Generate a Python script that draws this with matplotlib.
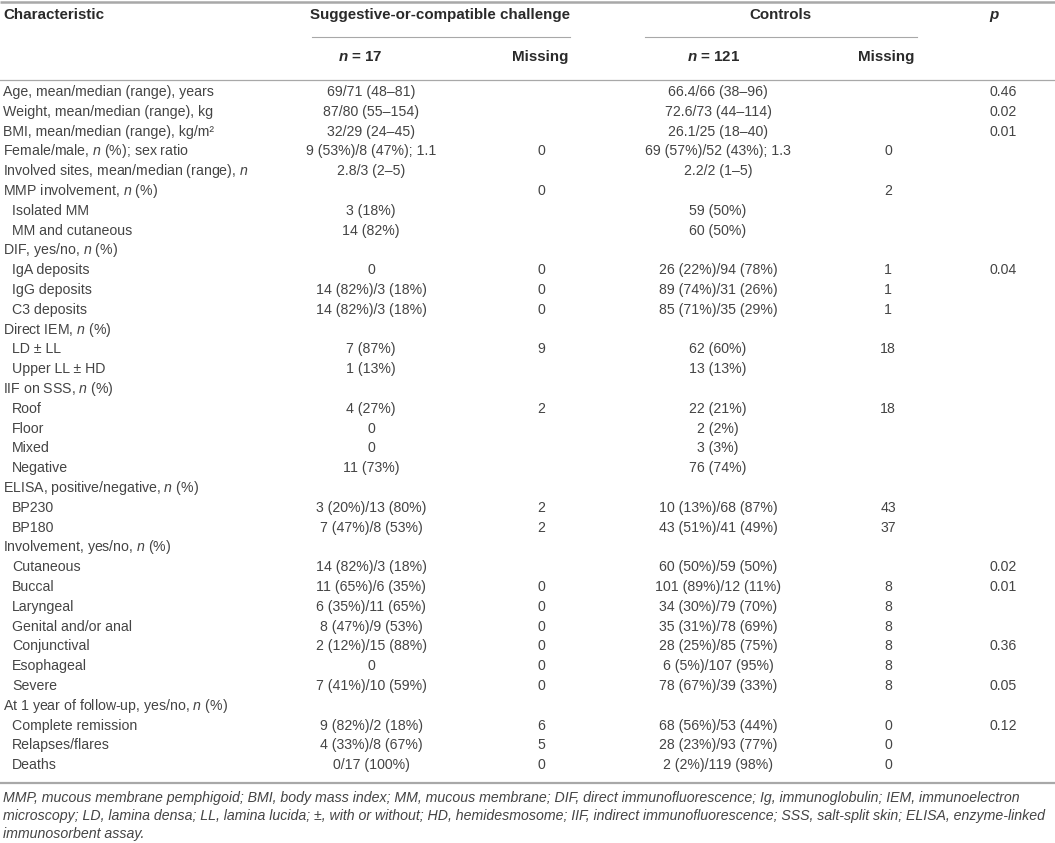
import matplotlib.pyplot as plt

plt.rcParams['font.family'] = 'Liberation Sans'
plt.rcParams['mathtext.fontset'] = 'custom'
plt.rcParams['mathtext.rm'] = 'Liberation Sans'
plt.rcParams['mathtext.it'] = 'Liberation Sans:italic'
plt.rcParams['mathtext.bf'] = 'Liberation Sans:bold'
plt.rcParams['mathtext.bfit'] = 'Liberation Sans:italic:bold'

# table rows: label, indent flag, challenge n=17, missing, controls n=121, missing, p
labels = [
    'Age, mean/median (range), years',
    'Weight, mean/median (range), kg',
    'BMI, mean/median (range), kg/m²',
    'Female/male, $n$ (%); sex ratio',
    'Involved sites, mean/median (range), $n$',
    'MMP involvement, $n$ (%)',
    'Isolated MM',
    'MM and cutaneous',
    'DIF, yes/no, $n$ (%)',
    'IgA deposits',
    'IgG deposits',
    'C3 deposits',
    'Direct IEM, $n$ (%)',
    'LD ± LL',
    'Upper LL ± HD',
    'IIF on SSS, $n$ (%)',
    'Roof',
    'Floor',
    'Mixed',
    'Negative',
    'ELISA, positive/negative, $n$ (%)',
    'BP230',
    'BP180',
    'Involvement, yes/no, $n$ (%)',
    'Cutaneous',
    'Buccal',
    'Laryngeal',
    'Genital and/or anal',
    'Conjunctival',
    'Esophageal',
    'Severe',
    'At 1 year of follow-up, yes/no, $n$ (%)',
    'Complete remission',
    'Relapses/flares',
    'Deaths',
]
indent = [0, 0, 0, 0, 0, 0, 1, 1, 0, 1, 1, 1, 0, 1, 1, 0, 1, 1, 1, 1,
          0, 1, 1, 0, 1, 1, 1, 1, 1, 1, 1, 0, 1, 1, 1]
challenge = [
    '69/71 (48–81)', '87/80 (55–154)', '32/29 (24–45)', '9 (53%)/8 (47%); 1.1',
    '2.8/3 (2–5)', '', '3 (18%)', '14 (82%)', '', '0', '14 (82%)/3 (18%)',
    '14 (82%)/3 (18%)', '', '7 (87%)', '1 (13%)', '', '4 (27%)', '0', '0',
    '11 (73%)', '', '3 (20%)/13 (80%)', '7 (47%)/8 (53%)', '',
    '14 (82%)/3 (18%)', '11 (65%)/6 (35%)', '6 (35%)/11 (65%)',
    '8 (47%)/9 (53%)', '2 (12%)/15 (88%)', '0', '7 (41%)/10 (59%)', '',
    '9 (82%)/2 (18%)', '4 (33%)/8 (67%)', '0/17 (100%)',
]
challenge_missing = [
    '', '', '', '0', '', '0', '', '', '', '0', '0', '0', '', '9', '', '', '2',
    '', '', '', '', '2', '2', '', '', '0', '0', '0', '0', '0', '0', '', '6',
    '5', '0',
]
controls = [
    '66.4/66 (38–96)', '72.6/73 (44–114)', '26.1/25 (18–40)',
    '69 (57%)/52 (43%); 1.3', '2.2/2 (1–5)', '', '59 (50%)', '60 (50%)', '',
    '26 (22%)/94 (78%)', '89 (74%)/31 (26%)', '85 (71%)/35 (29%)', '',
    '62 (60%)', '13 (13%)', '', '22 (21%)', '2 (2%)', '3 (3%)', '76 (74%)',
    '', '10 (13%)/68 (87%)', '43 (51%)/41 (49%)', '', '60 (50%)/59 (50%)',
    '101 (89%)/12 (11%)', '34 (30%)/79 (70%)', '35 (31%)/78 (69%)',
    '28 (25%)/85 (75%)', '6 (5%)/107 (95%)', '78 (67%)/39 (33%)', '',
    '68 (56%)/53 (44%)', '28 (23%)/93 (77%)', '2 (2%)/119 (98%)',
]
controls_missing = [
    '', '', '', '0', '', '2', '', '', '', '1', '1', '1', '', '18', '', '',
    '18', '', '', '', '', '43', '37', '', '', '8', '8', '8', '8', '8', '8',
    '', '0', '0', '0',
]
p_values = [
    '0.46', '0.02', '0.01', '', '', '', '', '', '', '0.04', '', '', '', '',
    '', '', '', '', '', '', '', '', '', '', '0.02', '0.01', '', '', '0.36',
    '', '0.05', '', '0.12', '', '',
]
footnote = [
    'MMP, mucous membrane pemphigoid; BMI, body mass index; MM, mucous membrane; '
    'DIF, direct immunofluorescence; Ig, immunoglobulin; IEM, immunoelectron',
    'microscopy; LD, lamina densa; LL, lamina lucida; ±, with or without; '
    'HD, hemidesmosome; IIF, indirect immunofluorescence; SSS, salt-split skin; '
    'ELISA, enzyme-linked',
    'immunosorbent assay.',
]

W, H = 1055, 843
fig = plt.figure(figsize=(W / 100, H / 100), dpi=100)
ax = fig.add_axes([0, 0, 1, 1])
ax.set_xlim(0, W)
ax.set_ylim(H, 0)
ax.axis('off')

txt = '#444444'
head = '#2a2a2a'
rule = '#a8a8a8'
fs = 10.2

# rules
ax.plot([0, W], [2, 2], color=rule, lw=1.8, solid_capstyle='butt')
ax.plot([312, 570], [37, 37], color=rule, lw=0.8)
ax.plot([645, 917], [37, 37], color=rule, lw=0.8)
ax.plot([0, W], [80, 80], color=rule, lw=0.9)
ax.plot([0, W], [783, 783], color=rule, lw=1.6)

# header
hk = dict(fontsize=10.9, fontweight='bold', color=head, va='center')
ax.text(3, 15, 'Characteristic', ha='left', **hk)
ax.text(440, 15, 'Suggestive-or-compatible challenge', ha='center', **hk)
ax.text(780, 15, 'Controls', ha='center', **hk)
ax.text(995, 16, r'$\mathbfit{p}$', ha='center', **hk)
ax.text(360, 57, r'$\mathbfit{n}$ = 17', ha='center', **hk)
ax.text(540, 57, 'Missing', ha='center', **hk)
ax.text(714, 57, r'$\mathbfit{n}$ = 121', ha='center', **hk)
ax.text(886, 57, 'Missing', ha='center', **hk)

# body
y0, dy = 92, 19.8
bk = dict(fontsize=fs, color=txt, va='center')
for i, lab in enumerate(labels):
    y = y0 + i * dy
    ax.text(3 + 9 * indent[i], y, lab, ha='left', **bk)
    ax.text(371, y, challenge[i], ha='center', **bk)
    ax.text(541, y, challenge_missing[i], ha='center', **bk)
    ax.text(718, y, controls[i], ha='center', **bk)
    ax.text(888, y, controls_missing[i], ha='center', **bk)
    ax.text(1003, y, p_values[i], ha='center', **bk)

for j, line in enumerate(footnote):
    ax.text(3, 798 + j * 18, line, ha='left', va='center', fontsize=10.2,
            style='italic', color='#444444')

fig.savefig('out.png', dpi=100)
